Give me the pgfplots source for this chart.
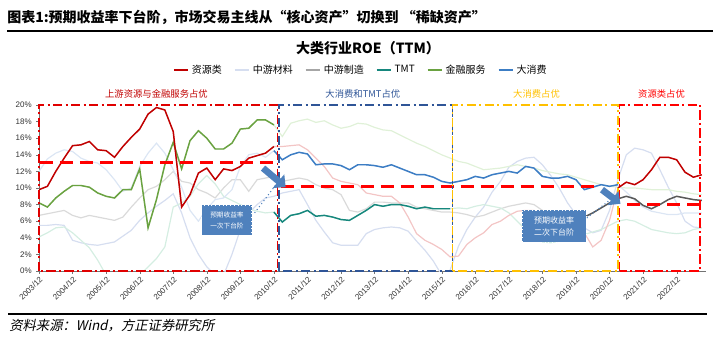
\documentclass[border=0pt]{standalone}
\usepackage{pgfplots}
\pgfplotsset{compat=1.18}
\usepackage{pgfplotstable}
\usepackage{fontspec}
\setmainfont{Liberation Sans}
\newfontfamily\cjk{Noto Sans CJK SC}
\newfontfamily\cjkslant{Noto Sans CJK SC}[FakeSlant=0.2]
\usetikzlibrary{arrows.meta}

\definecolor{resB}{HTML}{C00000}
\definecolor{resF}{HTML}{F3C5C5}
\definecolor{finB}{HTML}{6AA241}
\definecolor{finF}{HTML}{E0F1D8}
\definecolor{conB}{HTML}{3C7DC4}
\definecolor{conF}{HTML}{DCE6F4}
\definecolor{matF}{HTML}{D6DEF0}
\definecolor{mfgF}{HTML}{DADADA}
\definecolor{mfgB}{HTML}{595959}
\definecolor{tmtB}{HTML}{16877D}
\definecolor{tmtF}{HTML}{D5EEE2}
\definecolor{boxR}{HTML}{E00000}
\definecolor{boxB}{HTML}{2F5597}
\definecolor{boxY}{HTML}{FFC000}
\definecolor{arrB}{HTML}{4F81BD}

\pgfplotstableread{
t res mat mfg tmt fin con
0 9.8 5.5 6.7 4.1 8.2 12.0
1 10.2 5.5 6.9 4.6 7.7 13.5
2 12.0 5.6 7.1 5.2 8.8 14.2
3 13.6 5.5 7.3 5.3 9.6 14.6
4 15.1 3.7 6.7 4.6 10.3 14.4
5 15.2 3.4 6.4 3.7 10.3 13.6
6 15.6 3.2 6.7 2.8 10.1 13.2
7 14.6 3.1 6.5 1.3 9.4 13.0
8 14.5 3.3 6.3 -0.5 9.0 12.2
9 13.7 3.5 6.1 -1.5 8.8 11.0
10 15.0 4.2 6.5 -1.5 9.8 9.6
11 16.1 4.9 7.7 -1.0 9.8 10.0
12 17.1 6.1 8.8 -0.5 12.3 12.6
13 18.9 7.0 9.8 0.5 5.2 14.2
14 19.7 7.8 10.2 1.5 8.6 15.4
15 19.4 8.5 11.0 2.9 12.8 14.2
16 16.8 9.3 12.0 7.7 15.5 12.2
17 7.7 7.0 10.8 8.2 12.3 10.1
18 9.2 4.0 10.6 9.0 15.7 7.3
19 11.8 2.0 9.8 10.5 16.9 6.0
20 12.4 0.5 9.4 11.5 16.0 7.5
21 11.0 -0.5 8.8 10.5 14.7 8.6
22 12.3 -0.5 10.0 9.0 14.7 8.8
23 12.1 2.0 11.0 8.5 15.4 9.8
24 12.6 5.0 11.0 8.0 17.1 12.6
25 13.6 7.0 9.6 7.5 17.2 14.0
26 13.9 8.0 11.0 7.2 18.2 14.2
27 14.2 8.8 11.2 7.0 18.2 13.7
28 15.0 9.0 11.4 7.1 17.6 14.5
29 15.0 9.4 10.8 5.9 16.2 13.4
30 15.1 9.6 11.0 6.7 17.8 14.0
31 15.2 9.8 11.2 6.9 18.1 14.3
32 14.6 8.0 11.0 7.3 18.3 14.1
33 13.6 6.1 10.4 6.6 17.9 12.8
34 12.6 4.7 10.0 6.7 18.1 12.9
35 11.2 3.4 9.8 6.5 17.6 12.9
36 10.8 3.1 9.2 6.2 17.2 12.7
37 10.6 3.1 7.3 6.1 17.4 12.2
38 10.4 3.1 7.1 6.7 17.8 12.8
39 9.4 4.5 7.5 7.3 17.7 12.8
40 9.2 5.0 8.3 8.0 17.3 12.7
41 9.0 5.2 8.3 7.8 17.0 12.5
42 9.0 5.3 8.2 8.0 16.9 12.8
43 8.2 5.2 8.2 8.0 16.4 12.4
44 6.5 4.8 8.2 7.8 15.9 12.0
45 4.5 3.6 7.7 7.5 15.4 11.6
46 3.7 2.5 7.5 7.7 15.0 11.6
47 3.2 1.2 7.3 7.5 14.5 11.3
48 2.6 -0.5 7.1 7.5 14.0 10.8
49 1.7 0.1 7.1 7.5 13.6 10.6
50 1.8 3.0 7.0 7.6 13.2 10.8
51 3.2 5.0 6.8 7.5 13.0 11.0
52 4.0 6.5 6.5 7.8 12.6 11.4
53 4.6 7.7 6.7 8.0 12.2 11.2
54 5.6 9.5 7.1 7.8 12.3 11.6
55 6.0 10.8 7.5 7.6 12.4 11.8
56 6.7 12.5 7.8 7.0 12.6 12.0
57 7.2 13.2 8.0 6.0 12.8 11.8
58 7.3 13.6 8.2 5.0 12.6 12.6
59 7.3 13.7 8.0 4.0 12.4 12.4
60 6.1 12.8 7.3 3.5 12.1 11.4
61 5.3 11.5 7.0 3.4 11.9 11.2
62 4.6 10.0 6.8 3.6 11.7 11.2
63 4.6 8.2 6.7 3.8 11.6 11.4
64 5.0 6.8 6.6 4.1 11.3 11.0
65 4.6 5.2 6.5 4.4 11.0 9.8
66 2.9 4.6 7.0 4.7 10.7 10.1
67 3.7 4.9 7.6 5.0 10.4 10.4
68 6.1 7.3 8.2 5.5 10.2 10.2
69 10.0 11.0 8.7 6.0 10.1 10.4
70 10.7 14.0 9.0 6.2 10.0 9.5
71 10.4 14.8 8.7 6.0 10.0 8.5
72 11.0 14.6 7.9 5.5 9.9 7.7
73 12.2 14.2 7.5 5.0 9.8 7.2
74 13.7 12.2 8.0 4.8 9.8 7.0
75 13.7 10.1 8.6 4.6 9.8 6.8
76 13.4 8.2 9.0 4.5 9.6 6.8
77 11.9 6.0 8.8 4.6 9.5 7.0
78 11.3 5.3 8.6 5.0 9.3 7.0
79 11.6 5.2 8.5 5.2 9.2 7.0
}\roe

\begin{document}
\begin{tikzpicture}
\begin{scope}[x=0.75pt,y=0.75pt]
\useasboundingbox (0,0) rectangle (720,343);
\node[anchor=west, inner sep=0pt, font=\cjk\bfseries\fontsize{10.5}{12}\selectfont] at (7,326) {图表1:预期收益率下台阶，市场交易主线从“核心资产”切换到 “稀缺资产”};
\draw[line width=1.6pt] (7,312) -- (713,312);
\draw[line width=1.6pt] (8,29) -- (707,29);
\node[anchor=west, inner sep=0pt, font=\cjkslant\fontsize{10}{12}\selectfont] at (9,17) {资料来源：Wind，方正证券研究所};
\node[font=\cjk\bfseries\fontsize{10.5}{12}\selectfont] at (368,295) {大类行业ROE（TTM）};
\end{scope}

\begin{axis}[
  at={(29.25pt,54pt)}, anchor=south west,
  scale only axis, width=500.25pt, height=124.5pt,
  xmin=0, xmax=79.5, ymin=0, ymax=20,
  clip mode=individual,
  axis x line*=bottom, axis y line*=left,
  axis line style={-, draw=black!55, line width=0.6pt},
  ytick={0,2,...,20},
  yticklabels={0\%,2\%,4\%,6\%,8\%,10\%,12\%,14\%,16\%,18\%,20\%},
  xtick={0,4,...,76},
  xticklabels={2003/12,2004/12,2005/12,2006/12,2007/12,2008/12,2009/12,2010/12,2011/12,2012/12,2013/12,2014/12,2015/12,2016/12,2017/12,2018/12,2019/12,2020/12,2021/12,2022/12},
  tick label style={font=\fontsize{6}{7}\selectfont, text=black!80},
  xticklabel style={rotate=45, anchor=north east, inner sep=1pt},
  tick align=outside, major tick length=2pt,
  tick style={draw=black!55},
  legend style={at={(0.483,1.211)}, anchor=center, draw=none, fill=none,
    legend columns=6, font=\cjk\fontsize{7.5}{9}\selectfont,
    /tikz/every even column/.append style={column sep=7pt}},
  legend image code/.code={\draw[#1] (0pt,0pt) -- (11pt,0pt);},
]
\addlegendimage{resB, line width=1.2pt}\addlegendentry{资源类}
\addlegendimage{matF, line width=1.2pt}\addlegendentry{中游材料}
\addlegendimage{black!35, line width=1.2pt}\addlegendentry{中游制造}
\addlegendimage{tmtB, line width=1.2pt}\addlegendentry{TMT}
\addlegendimage{finB, line width=1.2pt}\addlegendentry{金融服务}
\addlegendimage{conB, line width=1.2pt}\addlegendentry{大消费}

% faded full series
\addplot[forget plot, matF, line width=0.9pt] table[x=t,y=mat]{\roe};
\addplot[forget plot, mfgF, line width=0.9pt] table[x=t,y=mfg]{\roe};
\addplot[forget plot, tmtF, line width=0.9pt] table[x=t,y=tmt]{\roe};
\addplot[forget plot, finF, line width=0.9pt] table[x=t,y=fin]{\roe};
\addplot[forget plot, conF, line width=0.9pt] table[x=t,y=con]{\roe};
\addplot[forget plot, resF, line width=0.9pt] table[x=t,y=res]{\roe};
% highlighted segments
\addplot[forget plot, mfgB, line width=1.1pt, restrict x to domain=65:79] table[x=t,y=mfg]{\roe};
\addplot[forget plot, tmtB, line width=1.1pt, restrict x to domain=28:49] table[x=t,y=tmt]{\roe};
\addplot[forget plot, finB, line width=1.1pt, restrict x to domain=0:28] table[x=t,y=fin]{\roe};
\addplot[forget plot, conB, line width=1.1pt, restrict x to domain=28:69] table[x=t,y=con]{\roe};
\addplot[forget plot, resB, line width=1.1pt, restrict x to domain=0:28] table[x=t,y=res]{\roe};
\addplot[forget plot, resB, line width=1.1pt, restrict x to domain=69:79] table[x=t,y=res]{\roe};

% average levels
\addplot[forget plot, red, line width=2.6pt, dash pattern=on 10pt off 5pt] coordinates {(0.1,13.1) (27.9,13.1)};
\addplot[forget plot, red, line width=2.6pt, dash pattern=on 10pt off 5pt] coordinates {(28.8,10.2) (66.8,10.2)};
\addplot[forget plot, red, line width=2.6pt, dash pattern=on 10pt off 5pt] coordinates {(70.1,8.0) (78.8,8.0)};

% period boxes
\draw[boxR, line width=1.1pt, dash pattern=on 7pt off 2.5pt on 1.5pt off 2.5pt] (axis cs:0,0) rectangle (axis cs:28.4,20);
\draw[boxB, line width=1.1pt, dash pattern=on 7pt off 2.5pt on 1.5pt off 2.5pt] (axis cs:28.6,0) rectangle (axis cs:49.3,20);
\draw[boxY, line width=1.1pt, dash pattern=on 7pt off 2.5pt on 1.5pt off 2.5pt] (axis cs:49.3,0) rectangle (axis cs:69.0,20);
\draw[red, line width=1.1pt, dash pattern=on 7pt off 2.5pt on 1.5pt off 2.5pt] (axis cs:69.2,0) rectangle (axis cs:78.8,20);

% period labels
\node[font=\cjk\fontsize{7}{8}\selectfont, text=resB] at (axis cs:14.0,21.3) {上游资源与金融服务占优};
\node[font=\cjk\fontsize{7}{8}\selectfont, text=boxB] at (axis cs:38.6,21.3) {大消费和TMT占优};
\node[font=\cjk\fontsize{7}{8}\selectfont, text=boxY] at (axis cs:59.3,21.3) {大消费占优};
\node[font=\cjk\fontsize{7}{8}\selectfont, text=red] at (axis cs:74.2,21.3) {资源类占优};

% connectors
\draw[arrB, dotted, line width=0.8pt] (axis cs:25.7,7.0) -- (axis cs:28.4,10.6);
\draw[arrB, dotted, line width=0.8pt] (axis cs:65.3,6.4) -- (axis cs:68.1,8.6);

% arrows
\draw[arrB, line width=5pt, -{Triangle[length=7pt,width=13pt]}] (axis cs:26.7,12.4) -- (axis cs:29.4,10.1);
\draw[arrB, line width=5pt, -{Triangle[length=7pt,width=13pt]}] (axis cs:67.1,9.8) -- (axis cs:69.3,8.1);

% annotation boxes
\node[fill=arrB, draw=white, dotted, line width=0.8pt, text=white, align=center,
  minimum width=37.5pt, minimum height=22.5pt, inner sep=1pt,
  font=\cjk\fontsize{5}{8}\selectfont] at (axis cs:22.4,6.1) {预期收益率\\一次下台阶};
\node[fill=arrB, draw=white, dotted, line width=0.8pt, text=white, align=center,
  minimum width=48pt, minimum height=24pt, inner sep=1pt,
  font=\cjk\fontsize{6}{9}\selectfont] at (axis cs:61.4,5.4) {预期收益率\\二次下台阶};
\end{axis}
\end{tikzpicture}
\end{document}
